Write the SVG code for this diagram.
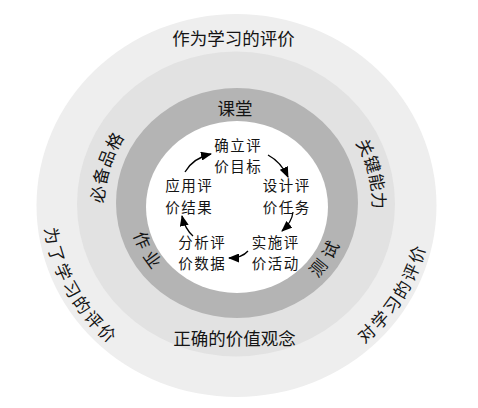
<svg xmlns="http://www.w3.org/2000/svg" width="478" height="408" viewBox="0 0 478 408">
<style>
text{font-family:"Noto Sans CJK SC","Noto Sans",sans-serif;fill:#141414;}
.ring{font-size:17.5px;}
.arc{font-size:17px;dominant-baseline:central;}
.step{font-size:14.5px;letter-spacing:1.6px;text-anchor:middle;}
.conn{fill:none;stroke:#000;stroke-width:1.3;marker-end:url(#ah);}
</style>
<defs>
<marker id="ah" markerUnits="userSpaceOnUse" markerWidth="11" markerHeight="9" refX="10" refY="4.5" orient="auto">
<path d="M0,0 L11,4.5 L0,9 z" fill="#000"/>
</marker>
<path id="pOutL" d="M 80.1 110.4 A 186 176 0 0 0 228.9 380.8"/>
<path id="pOutR" d="M 237 381 A 186 176 0 0 0 398.1 117"/>
<path id="pMidL" d="M 134.7 297.9 A 141 135 0 0 1 204.1 73.7"/>
<path id="pMidR" d="M 280 75.9 A 143 135 0 0 1 335 303.7"/>
<path id="pInL" d="M 152.2 154.1 A 100 96 0 0 0 233.5 301"/>
<path id="pInR" d="M 235.8 303 A 102 98 0 0 0 326.6 157"/>
</defs>
<rect width="478" height="408" fill="#fff"/>
<g id="outer-ring">
<ellipse cx="236.5" cy="205.5" rx="200" ry="191.5" fill="#eeeeee"/>
<text class="ring" x="233.5" y="45" text-anchor="middle">作为学习的评价</text>
<text class="arc" letter-spacing="1.8"><textPath href="#pOutL" startOffset="50%" text-anchor="middle">为了学习的评价</textPath></text>
<text class="arc" letter-spacing="1.8"><textPath href="#pOutR" startOffset="50%" text-anchor="middle">对学习的评价</textPath></text>
</g>
<g id="middle-ring">
<ellipse cx="236" cy="204" rx="159" ry="152.5" fill="#e2e2e2"/>
<text class="ring" x="234.5" y="345" text-anchor="middle">正确的价值观念</text>
<text class="arc" letter-spacing="2"><textPath href="#pMidL" startOffset="50%" text-anchor="middle">必备品格</textPath></text>
<text class="arc" letter-spacing="1.5"><textPath href="#pMidR" startOffset="50%" text-anchor="middle">关键能力</textPath></text>
</g>
<g id="inner-ring">
<ellipse cx="237" cy="203" rx="121" ry="115" fill="#b4b4b4"/>
<text class="ring" x="235" y="115" text-anchor="middle" font-size="18">课堂</text>
<text class="arc" letter-spacing="4.5"><textPath href="#pInL" startOffset="50%" text-anchor="middle">作业</textPath></text>
<text class="arc" letter-spacing="4.5"><textPath href="#pInR" startOffset="50%" text-anchor="middle">测试</textPath></text>
</g>
<g id="core">
<ellipse cx="237" cy="207" rx="91" ry="86" fill="#ffffff"/>
</g>
<g id="step-goal"><text class="step" x="238.3" y="150.5"><tspan x="238.3">确立评</tspan><tspan x="238.3" dy="21.6">价目标</tspan></text></g>
<g id="step-design"><text class="step" x="286.8" y="191"><tspan x="286.8">设计评</tspan><tspan x="286.8" dy="21.6">价任务</tspan></text></g>
<g id="step-run"><text class="step" x="275.8" y="247.5"><tspan x="275.8">实施评</tspan><tspan x="275.8" dy="21.6">价活动</tspan></text></g>
<g id="step-analyse"><text class="step" x="202.3" y="247.5"><tspan x="202.3">分析评</tspan><tspan x="202.3" dy="21.6">价数据</tspan></text></g>
<g id="step-apply"><text class="step" x="189.3" y="191"><tspan x="189.3">应用评</tspan><tspan x="189.3" dy="21.6">价结果</tspan></text></g>
<g id="connectors">
<path class="conn" d="M 268 155 Q 281 162 288 177"/>
<path class="conn" d="M 293 212 Q 292 222 282 231"/>
<path class="conn" d="M 248 251 Q 242 258 229 258"/>
<path class="conn" d="M 193 236 Q 185 229 182 216"/>
<path class="conn" d="M 185 172 Q 193 158 211 154"/>
</g>
</svg>
